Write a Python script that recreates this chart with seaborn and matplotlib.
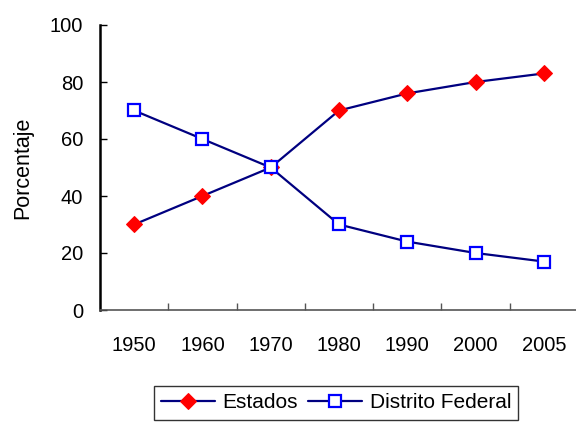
import pandas as pd
import seaborn as sns
import matplotlib.pyplot as plt
from matplotlib.ticker import FixedLocator

anios = ['1950', '1960', '1970', '1980', '1990', '2000', '2005']
estados = [30, 40, 50, 70, 76, 80, 83]
distrito = [70, 60, 50, 30, 24, 20, 17]

sns.set_style('white')
plt.rcParams['font.family'] = ['Liberation Sans', 'DejaVu Sans']
plt.rcParams['text.color'] = 'black'
plt.rcParams['axes.labelcolor'] = 'black'
plt.rcParams['xtick.color'] = 'black'
plt.rcParams['ytick.color'] = 'black'

fig = plt.figure(figsize=(5.76, 4.23), dpi=100)
ax = fig.add_axes([100 / 576, 1 - 310 / 423, 478 / 576, 285 / 423])

df = pd.DataFrame({'Año': anios, 'Estados': estados, 'Distrito Federal': distrito})

sns.lineplot(data=df, x='Año', y='Estados', ax=ax, color='#000080', lw=1.6,
             marker='D', markersize=8.5, markerfacecolor='#FF0000',
             markeredgecolor='#FF0000', label='Estados')
sns.lineplot(data=df, x='Año', y='Distrito Federal', ax=ax, color='#000080', lw=1.6,
             marker='s', markersize=8.5, markerfacecolor='white',
             markeredgecolor='#0000FF', markeredgewidth=1.6, label='Distrito Federal')

ax.set_xlim(-0.5, len(anios) - 0.5)
ax.set_ylim(0, 100)
ax.set_yticks([0, 20, 40, 60, 80, 100])
ax.set_xticks(range(len(anios)))
ax.set_xticklabels(anios)
ax.xaxis.set_minor_locator(FixedLocator([i + 0.5 for i in range(len(anios) - 1)]))
ax.tick_params(axis='x', which='major', length=0, pad=18.5, labelsize=14.5, labelcolor='black')
ax.tick_params(axis='x', which='minor', direction='in', length=5, width=1, color='#555555',
               bottom=True)
ax.tick_params(axis='y', direction='in', length=5, width=1, left=True, labelsize=14.5, pad=12,
               color='black', labelcolor='black')

ax.set_xlabel('')
ax.set_ylabel('Porcentaje', fontsize=15.5, color='black')
ax.yaxis.set_label_coords(-0.14, 0.5)

for s in ['top', 'right']:
    ax.spines[s].set_visible(False)
ax.spines['left'].set_color('black')
ax.spines['left'].set_linewidth(1.8)
ax.spines['bottom'].set_color('#555555')
ax.spines['bottom'].set_linewidth(1.2)

ax.legend_.remove()
h, l = ax.get_legend_handles_labels()
leg = fig.legend(h, l, loc='upper center', bbox_to_anchor=(336 / 576, 1 - 386 / 423),
                 ncol=2, fontsize=15, frameon=True, fancybox=False, shadow=False,
                 handlelength=2.6, handletextpad=0.35, columnspacing=0.5,
                 borderpad=0.35, borderaxespad=0, labelcolor='black')
leg.get_frame().set_edgecolor('black')
leg.get_frame().set_linewidth(1)

fig.savefig('out.png', dpi=100)
